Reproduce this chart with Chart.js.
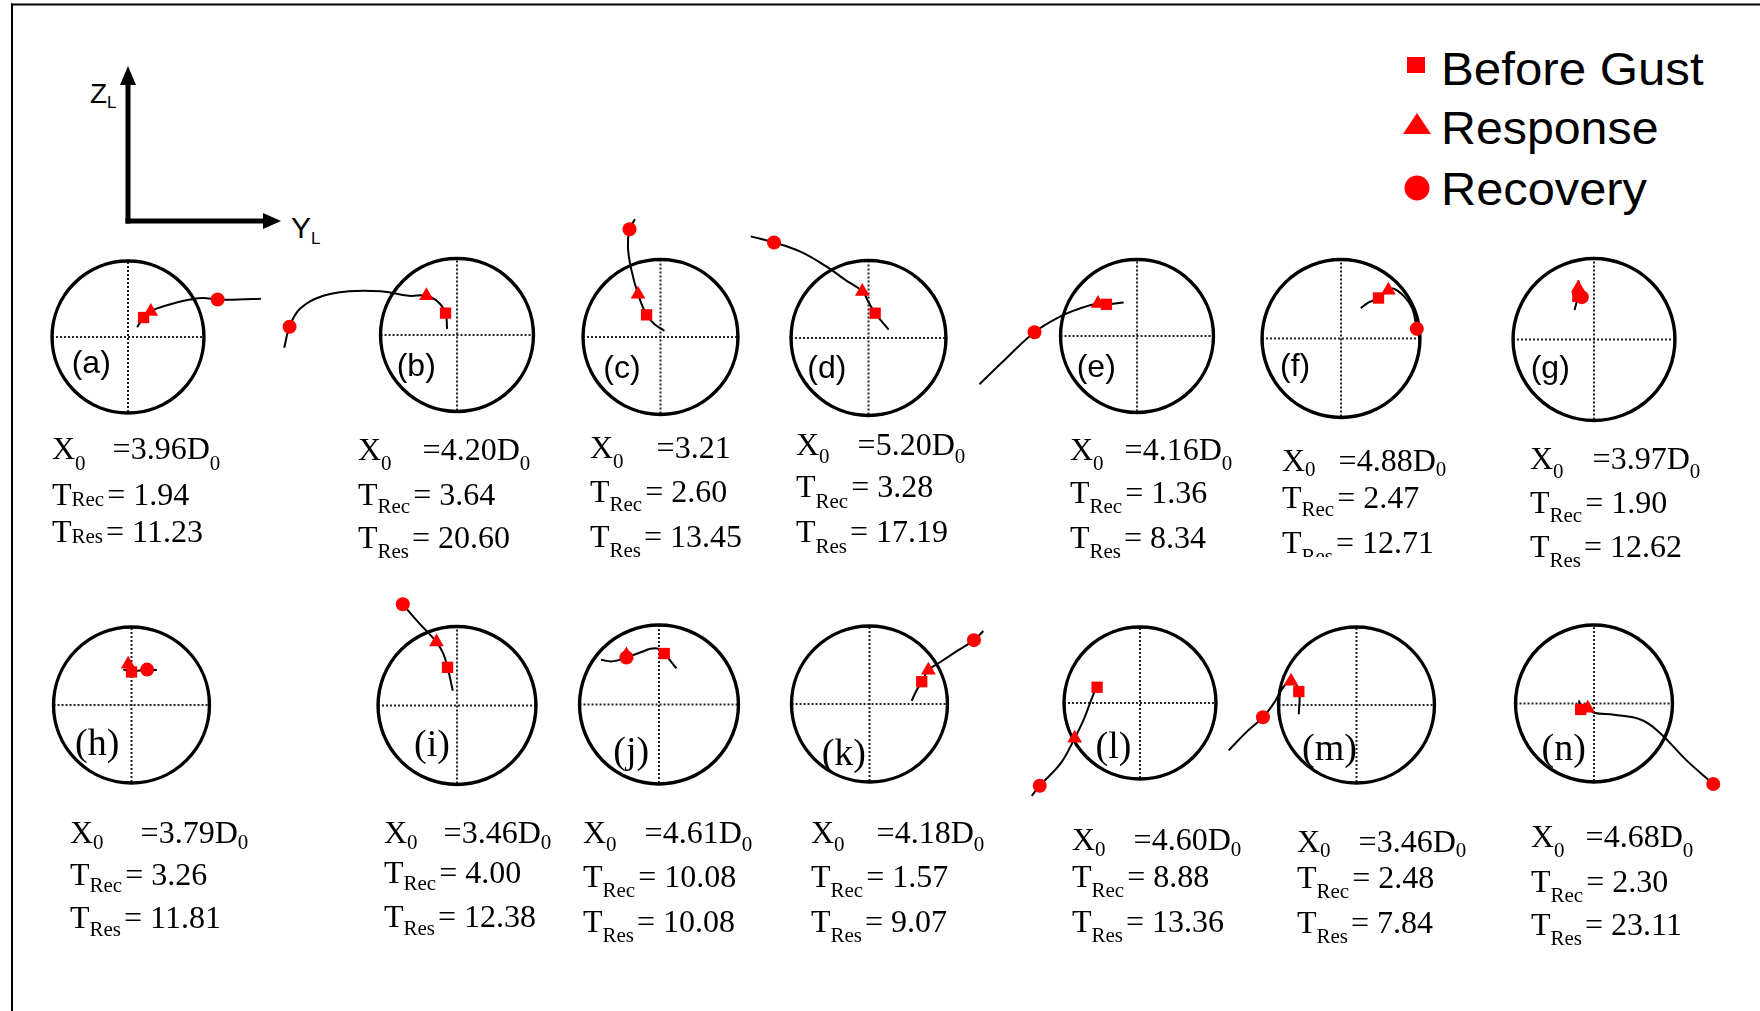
<!DOCTYPE html>
<html>
<head>
<meta charset="utf-8">
<script src="https://cdn.jsdelivr.net/npm/chart.js@4.4.1/dist/chart.umd.min.js"></script>
<style>
html, body { margin: 0; padding: 0; background: #fff; }
#fig { position: relative; width: 1760px; height: 1011px; overflow: hidden; background: #fff; }
.txt { position: absolute; white-space: nowrap; line-height: 1; color: #000; }
.serif { font-family: "Liberation Serif", "Times New Roman", serif; }
.sans { font-family: "Liberation Sans", Arial, sans-serif; }
.txt sub { font-size: 21px; vertical-align: baseline; position: relative; }
canvas.panel { position: absolute; }
</style>
</head>
<body>
<div id="fig">
  <svg width="1760" height="1011" style="position:absolute;left:0;top:0">
    <!-- frame -->
    <line x1="12" y1="3.5" x2="12" y2="1011" stroke="#000" stroke-width="2"/>
    <line x1="11" y1="4.5" x2="1760" y2="4.5" stroke="#000" stroke-width="2"/>
    <!-- Y_L / Z_L axes -->
    <line x1="128" y1="223.5" x2="128" y2="82" stroke="#000" stroke-width="5"/>
    <polygon points="128,66 120,85 136,85" fill="#000"/>
    <line x1="125.5" y1="221" x2="265" y2="221" stroke="#000" stroke-width="5"/>
    <polygon points="281,221 263,213 263,229" fill="#000"/>
    <!-- legend symbols -->
    <rect x="1407" y="57" width="18" height="16" fill="#ff0000"/>
    <polygon points="1417,113 1431,134 1403,134" fill="#ff0000"/>
    <circle cx="1417" cy="188" r="12.5" fill="#ff0000"/>
  </svg>
  <div class="txt sans" style="left:90px;top:79.5px;font-size:28px">Z<span style="font-size:17px;position:relative;top:5px">L</span></div>
  <div class="txt sans" style="left:291px;top:213px;font-size:30px">Y<span style="font-size:17px;position:relative;top:6px">L</span></div>
  <div class="txt sans" style="left:1441px;top:46px;font-size:46px;transform:scaleX(1.07);transform-origin:left">Before Gust</div>
  <div class="txt sans" style="left:1441px;top:105px;font-size:46px;transform:scaleX(1.05);transform-origin:left">Response</div>
  <div class="txt sans" style="left:1441px;top:166px;font-size:46px;transform:scaleX(1.06);transform-origin:left">Recovery</div>
</div>
<script>
// ---- data: rotor-centre trajectories in the Y_L-Z_L plane, in units of the rotor radius ----
const panelLetters = ['a','b','c','d','e','f','g','h','i','j','k','l','m','n'];
const x0Values = ['3.96','4.20','3.21','5.20','4.16','4.88','3.97','3.79','3.46','4.61','4.18','4.60','3.46','4.68'];
const x0Units  = ['D','D','','D','D','D','D','D','D','D','D','D','D','D'];
const tRec = ['1.94','3.64','2.60','3.28','1.36','2.47','1.90','3.26','4.00','10.08','1.57','8.88','2.48','2.30'];
const tRes = ['11.23','20.60','13.45','17.19','8.34','12.71','12.62','11.81','12.38','10.08','9.07','13.36','7.84','23.11'];

const trajA = [[0.12,0.13],[0.205,0.26],[0.30,0.34],[0.365,0.375],[0.57,0.44],[0.82,0.50],[0.99,0.52],[1.18,0.50],[1.45,0.50],[1.75,0.51]];
const trajB = [[-2.26,-0.17],[-2.19,0.11],[-2.05,0.35],[-1.75,0.52],[-1.42,0.58],[-1.00,0.58],[-0.63,0.52],[-0.40,0.52],[-0.25,0.44],[-0.15,0.29],[-0.13,0.08]];
const trajC = [[-0.33,1.54],[-0.40,1.41],[-0.42,1.17],[-0.375,0.875],[-0.29,0.56],[-0.18,0.29],[-0.08,0.17],[0.05,0.08]];
const trajD = [[-1.52,1.33],[-1.22,1.25],[-0.88,1.13],[-0.55,0.94],[-0.30,0.76],[-0.08,0.61],[0.0,0.47],[0.086,0.325],[0.26,0.11]];
const trajE = [[-2.06,-0.64],[-1.76,-0.345],[-1.34,0.05],[-1.0,0.26],[-0.76,0.36],[-0.51,0.43],[-0.40,0.42],[-0.175,0.445]];
const trajF = [[0.25,0.39],[0.345,0.46],[0.475,0.52],[0.60,0.62],[0.667,0.64],[0.80,0.54],[0.905,0.38],[0.96,0.125],[1.0,-0.025]];
const trajG = [[-0.19,0.74],[-0.195,0.64],[-0.20,0.54],[-0.24,0.37]];
const trajH = [[-0.105,0.46],[0,0.44],[0.20,0.46],[0.325,0.455]];
const trajI = [[-0.686,1.30],[-0.50,1.08],[-0.26,0.815],[-0.175,0.67],[-0.12,0.49],[-0.053,0.19]];
const trajJ = [[-0.73,0.57],[-0.59,0.55],[-0.41,0.60],[-0.22,0.67],[-0.106,0.71],[-0.006,0.71],[0.066,0.65],[0.22,0.46]];
const trajK = [[0.54,0.04],[0.60,0.17],[0.67,0.29],[0.755,0.44],[0.87,0.52],[1.11,0.68],[1.34,0.83],[1.46,0.95]];
const trajL = [[-0.565,0.21],[-0.62,0.10],[-0.74,-0.22],[-0.86,-0.47],[-1.04,-0.80],[-1.32,-1.105],[-1.425,-1.24]];
const trajM = [[-1.64,-0.59],[-1.40,-0.34],[-1.20,-0.16],[-1.06,0.025],[-0.94,0.23],[-0.84,0.31],[-0.74,0.175],[-0.74,-0.12]];
const trajN = [[-0.19,0.04],[-0.17,-0.077],[-0.08,-0.06],[0,-0.12],[0.255,-0.146],[0.60,-0.21],[0.83,-0.37],[1.18,-0.735],[1.52,-1.04]];

const beforeGust = [[0.205,0.26],[-0.15,0.29],[-0.18,0.29],[0.086,0.325],[-0.40,0.42],[0.475,0.52],[-0.20,0.54],[0,0.43],[-0.12,0.49],[0.066,0.65],[0.67,0.29],[-0.565,0.21],[-0.74,0.175],[-0.17,-0.077]];
const response   = [[0.30,0.34],[-0.40,0.52],[-0.29,0.56],[-0.08,0.61],[-0.51,0.43],[0.60,0.62],[-0.195,0.64],[-0.043,0.53],[-0.26,0.815],[-0.41,0.63],[0.755,0.44],[-0.86,-0.47],[-0.84,0.31],[-0.08,-0.06]];
const recovery   = [[1.18,0.50],[-2.19,0.11],[-0.40,1.41],[-1.22,1.25],[-1.34,0.05],[0.96,0.125],[-0.15,0.53],[0.20,0.46],[-0.686,1.30],[-0.41,0.60],[1.34,0.83],[-1.32,-1.105],[-1.20,-0.16],[1.52,-1.04]];

const trajectories = [trajA,trajB,trajC,trajD,trajE,trajF,trajG,trajH,trajI,trajJ,trajK,trajL,trajM,trajN];

// ---- page layout: rotor circle centre/radius, label and text anchors (px) ----
const layout = [
  {cx:127.7, cy:336.5, r:79.5, lab:[71.7,373],   labSerif:false, tx:52,   base:[459,505,542], gap:27, drop:[11,1,1]},
  {cx:457,   cy:335,   r:80,   lab:[396.7,376.5], labSerif:false, tx:358,  base:[460,505,548], gap:31, drop:[10,8,10]},
  {cx:660,   cy:336.7, r:81,   lab:[603.3,378],   labSerif:false, tx:590,  base:[458,502,547], gap:33, drop:[10,9,10]},
  {cx:868,   cy:338,   r:81,   lab:[807.3,378],   labSerif:false, tx:796,  base:[455,497,542], gap:28, drop:[8,11,11]},
  {cx:1137.3,cy:335.7, r:80,   lab:[1076.7,377],  labSerif:false, tx:1070, base:[460,503,548], gap:21, drop:[10,10,10]},
  {cx:1341,  cy:338,   r:82.5, lab:[1280,376.5],  labSerif:false, tx:1282, base:[471,508,553], gap:23, drop:[5,8,10], clip:556.7},
  {cx:1593.7,cy:339.4, r:84.5, lab:[1530.7,378],  labSerif:false, tx:1530, base:[469,513,557], gap:29, drop:[9,9,10]},
  {cx:131.8, cy:704.5, r:81.5, lab:[75,754.7],    labSerif:true,  tx:70,   base:[843,885,928], gap:37, drop:[6,7,8]},
  {cx:457.3, cy:705.5, r:82.5, lab:[414,756.3],   labSerif:true,  tx:384,  base:[843,883,927], gap:26, drop:[6,7,8]},
  {cx:658.8, cy:704.2, r:83,   lab:[613.3,763],   labSerif:true,  tx:583,  base:[843,887,932], gap:28, drop:[8,10,10]},
  {cx:869.2, cy:704,   r:81.5, lab:[821.7,764.7], labSerif:true,  tx:811,  base:[843,887,932], gap:32, drop:[8,10,10]},
  {cx:1140.4,cy:702.8, r:79.5, lab:[1095.5,758],  labSerif:true,  tx:1072, base:[850,887,932], gap:28, drop:[6,10,10]},
  {cx:1356.3,cy:705.3, r:81.5, lab:[1302,759.7],  labSerif:true,  tx:1297, base:[852,888,933], gap:28, drop:[5,10,10]},
  {cx:1593.7,cy:703,   r:82,   lab:[1541.5,759.7],labSerif:true,  tx:1531, base:[847,892,935], gap:21, drop:[10,10,10]}
];

const SPAN_X = 2.4, SPAN_Y = 1.85;
const RED = '#ff0000';
const fig = document.getElementById('fig');

// rotor disc outline and dotted crosshair, drawn from the scales
const rotorPlugin = {
  id: 'rotor',
  beforeDatasetsDraw(chart) {
    const {ctx, scales: {x, y}} = chart;
    const cx = x.getPixelForValue(0), cy = y.getPixelForValue(0);
    const rad = x.getPixelForValue(1) - cx;
    ctx.save();
    ctx.strokeStyle = '#222';
    ctx.lineWidth = 2;
    ctx.setLineDash([2, 2]);
    ctx.beginPath();
    ctx.moveTo(x.getPixelForValue(-1), cy); ctx.lineTo(x.getPixelForValue(1), cy);
    ctx.moveTo(cx, y.getPixelForValue(-1)); ctx.lineTo(cx, y.getPixelForValue(1));
    ctx.stroke();
    ctx.setLineDash([]);
    ctx.strokeStyle = '#000';
    ctx.lineWidth = 3.4;
    ctx.beginPath();
    ctx.arc(cx, cy, rad, 0, Math.PI * 2);
    ctx.stroke();
    ctx.restore();
  }
};

const toXY = arr => arr.map(p => ({x: p[0], y: p[1]}));

function makePanel(i) {
  const L = layout[i];
  const W = Math.round(2 * SPAN_X * L.r), H = Math.round(2 * SPAN_Y * L.r);
  const cv = document.createElement('canvas');
  cv.className = 'panel';
  cv.width = W; cv.height = H;
  cv.style.left = (L.cx - W / 2) + 'px';
  cv.style.top = (L.cy - H / 2) + 'px';
  cv.style.width = W + 'px';
  cv.style.height = H + 'px';
  fig.appendChild(cv);
  const sx = W / (2 * L.r), sy = H / (2 * L.r);
  new Chart(cv, {
    type: 'scatter',
    data: {
      datasets: [
        {data: toXY(trajectories[i]), showLine: true, borderColor: '#000', borderWidth: 2,
         pointRadius: 0, tension: 0.4, order: 4, clip: false},
        {data: toXY([beforeGust[i]]), pointStyle: 'rect', pointRadius: 8, backgroundColor: RED,
         borderWidth: 0, order: 3, clip: false},
        {data: toXY([response[i]]), pointStyle: 'triangle', pointRadius: 8.5, backgroundColor: RED,
         borderWidth: 0, order: 2, clip: false},
        {data: toXY([recovery[i]]), pointStyle: 'circle', pointRadius: 7, backgroundColor: RED,
         borderWidth: 0, order: 1, clip: false}
      ]
    },
    options: {
      responsive: false, animation: false, events: [], devicePixelRatio: 1,
      layout: {padding: 0},
      plugins: {legend: {display: false}, tooltip: {enabled: false}},
      scales: {
        x: {type: 'linear', min: -sx, max: sx, display: false},
        y: {type: 'linear', min: -sy, max: sy, display: false}
      }
    },
    plugins: [rotorPlugin]
  });

  // panel letter
  const lab = document.createElement('div');
  const lfs = L.labSerif ? 38 : 32;
  lab.className = 'txt ' + (L.labSerif ? 'serif' : 'sans');
  lab.style.fontSize = lfs + 'px';
  lab.style.left = L.lab[0] + 'px';
  lab.style.top = (L.lab[1] - (L.labSerif ? 0.8375 : 0.8465) * lfs) + 'px';
  lab.textContent = '(' + panelLetters[i] + ')';
  fig.appendChild(lab);

  // statistics block
  const fs = 32;
  const lines = [
    'X<sub style="top:' + L.drop[0] + 'px;margin-right:' + L.gap + 'px">0</sub>=' + x0Values[i] +
      (x0Units[i] ? x0Units[i] + '<sub style="top:' + L.drop[0] + 'px">0</sub>' : ''),
    'T<sub style="top:' + L.drop[1] + 'px;margin-right:3px">Rec</sub>= ' + tRec[i],
    'T<sub style="top:' + L.drop[2] + 'px;margin-right:3px">Res</sub>= ' + tRes[i]
  ];
  lines.forEach((html, k) => {
    const d = document.createElement('div');
    d.className = 'txt serif';
    d.style.fontSize = fs + 'px';
    d.style.left = L.tx + 'px';
    const top = L.base[k] - 0.8375 * fs;
    d.style.top = top + 'px';
    if (k === 2 && L.clip) {
      d.style.height = (L.clip - top) + 'px';
      d.style.overflow = 'hidden';
    }
    d.innerHTML = html;
    fig.appendChild(d);
  });
}

for (let i = 0; i < panelLetters.length; i++) makePanel(i);
</script>
</body>
</html>
